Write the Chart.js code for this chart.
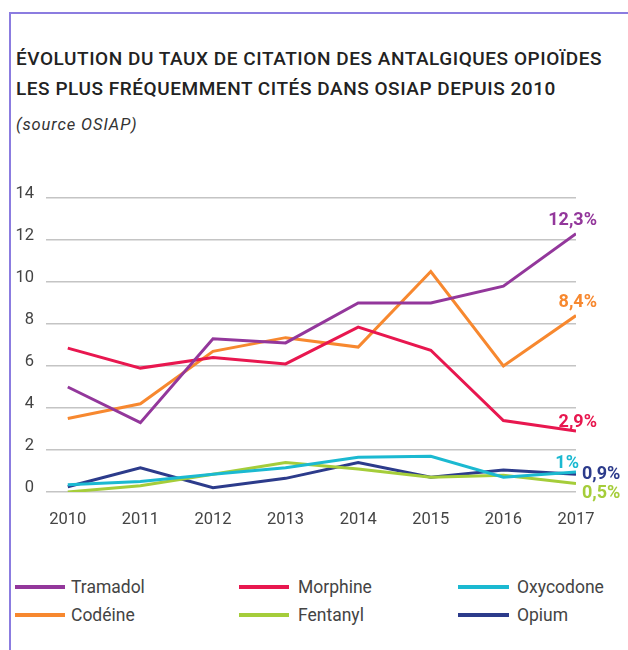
<!DOCTYPE html>
<html><head><meta charset="utf-8">
<script src="https://cdn.jsdelivr.net/npm/chart.js@4"></script>
<style>
html,body{margin:0;padding:0;background:#fff;}
body{width:628px;height:650px;position:relative;overflow:hidden;font-family:Roboto,sans-serif;}
#frameTop{position:absolute;left:9px;top:12px;width:619px;height:2px;background:#8b7ce0;}
#frameLeft{position:absolute;left:9px;top:12px;width:2px;height:638px;background:#8b7ce0;}
#title{position:absolute;left:16px;top:44px;font-weight:500;font-size:19px;letter-spacing:0.55px;line-height:29.5px;color:#222;white-space:nowrap;}
#source{position:absolute;left:16px;top:115px;font-style:italic;font-size:16.5px;letter-spacing:0.9px;color:#333;}
#wrap{position:absolute;left:0;top:170px;width:628px;height:360px;}
#legend{position:absolute;left:0;top:576px;width:628px;height:60px;}
.li{position:absolute;font-size:17.5px;color:#444;line-height:22px;}
.li span{position:absolute;top:9px;height:4px;}
.li b{font-weight:normal;position:absolute;top:0;white-space:nowrap;}
</style></head>
<body>
<div id="frameTop"></div><div id="frameLeft"></div>
<div id="title">ÉVOLUTION DU TAUX DE CITATION DES ANTALGIQUES OPIOÏDES<br>LES PLUS FRÉQUEMMENT CITÉS DANS OSIAP DEPUIS 2010</div>
<div id="source">(source OSIAP)</div>
<div id="wrap"><canvas id="c" width="628" height="360"></canvas></div>
<div id="legend"></div>
<script>
const years = [2010, 2011, 2012, 2013, 2014, 2015, 2016, 2017];
const yTicks = [0, 2, 4, 6, 8, 10, 12, 14];
const seriesNames = ['Tramadol', 'Morphine', 'Oxycodone', 'Codéine', 'Fentanyl', 'Opium'];
const tramadol  = [5.0, 3.3, 7.3, 7.1, 9.0, 9.0, 9.8, 12.3];
const morphine  = [6.85, 5.9, 6.4, 6.1, 7.85, 6.75, 3.4, 2.9];
const oxycodone = [0.35, 0.5, 0.85, 1.15, 1.65, 1.7, 0.7, 0.95];
const codeine   = [3.5, 4.2, 6.7, 7.35, 6.9, 10.5, 6.0, 8.4];
const fentanyl  = [0.0, 0.3, 0.85, 1.4, 1.1, 0.7, 0.8, 0.4];
const opium     = [0.25, 1.15, 0.2, 0.65, 1.4, 0.7, 1.05, 0.85];
const endLabels = ['12,3%', '2,9%', '1%', '8,4%', '0,5%', '0,9%'];
const colors = ['#93379b', '#e8174f', '#1bb9d1', '#f7882f', '#a5cd3a', '#2c3b8b'];
const values = [tramadol, morphine, oxycodone, codeine, fentanyl, opium];
// label placement: [anchor, dx, dy]
const labelPos = [['right', 21, -13], ['right', 21, -9], ['right', 3, -9], ['right', 21, -13], ['left', 6, 10], ['left', 6, 0]];

const endLabelPlugin = {
  id: 'endLabels',
  afterDatasetsDraw(chart) {
    const ctx = chart.ctx;
    ctx.save();
    ctx.font = 'bold 18px Roboto, sans-serif';
    ctx.textBaseline = 'middle';
    chart.data.datasets.forEach((ds, i) => {
      const meta = chart.getDatasetMeta(i);
      const pt = meta.data[meta.data.length - 1];
      const p = labelPos[i];
      ctx.fillStyle = colors[i];
      ctx.textAlign = p[0];
      ctx.fillText(endLabels[i], pt.x + p[1], pt.y + p[2]);
    });
    ctx.restore();
  }
};

new Chart(document.getElementById('c'), {
  type: 'line',
  data: {
    datasets: seriesNames.map((n, i) => ({
      label: n,
      data: years.map((y, j) => ({x: y, y: values[i][j]})),
      borderColor: colors[i],
      backgroundColor: colors[i],
      borderWidth: 3,
      pointRadius: 0,
      tension: 0,
      fill: false
    }))
  },
  options: {
    responsive: false,
    animation: false,
    layout: {padding: {left: 0, right: 52, top: 28, bottom: 0}},
    plugins: {legend: {display: false}, tooltip: {enabled: false}},
    scales: {
      x: {
        type: 'linear',
        min: 2009.7,
        max: 2017,
        afterBuildTicks(s) { s.ticks = years.map(v => ({value: v})); },
        afterFit(s) { s.height = 38; },
        grid: {display: false},
        border: {display: false},
        ticks: {color: '#444', padding: 10, font: {size: 16.5, family: 'Roboto, sans-serif'}, callback: v => String(v), maxRotation: 0, autoSkip: false}
      },
      y: {
        min: 0,
        max: 14,
        afterBuildTicks(s) { s.ticks = yTicks.map(v => ({value: v})); },
        afterFit(s) { s.width = 46; },
        grid: {color: '#c4c4c4', lineWidth: 1.5, drawTicks: false},
        border: {display: false},
        ticks: {color: '#444', padding: 12, font: {size: 16.5, family: 'Roboto, sans-serif', lineHeight: 0.55}, callback: v => [String(v), '']}
      }
    }
  },
  plugins: [endLabelPlugin]
});

const colLine = [[15, 65], [239, 289], [458, 509]];
const colText = [71, 298, 517];
const rowY = [0, 28];
const lg = document.getElementById('legend');
seriesNames.forEach((name, k) => {
  const c = k % 3, r = Math.floor(k / 3);
  const d = document.createElement('div');
  d.className = 'li';
  d.style.left = '0px';
  d.style.top = rowY[r] + 'px';
  d.innerHTML = '<span style="left:' + colLine[c][0] + 'px;width:' + (colLine[c][1] - colLine[c][0]) + 'px;background:' + colors[k] + '"></span><b style="left:' + colText[c] + 'px">' + name + '</b>';
  lg.appendChild(d);
});
</script>
</body></html>
